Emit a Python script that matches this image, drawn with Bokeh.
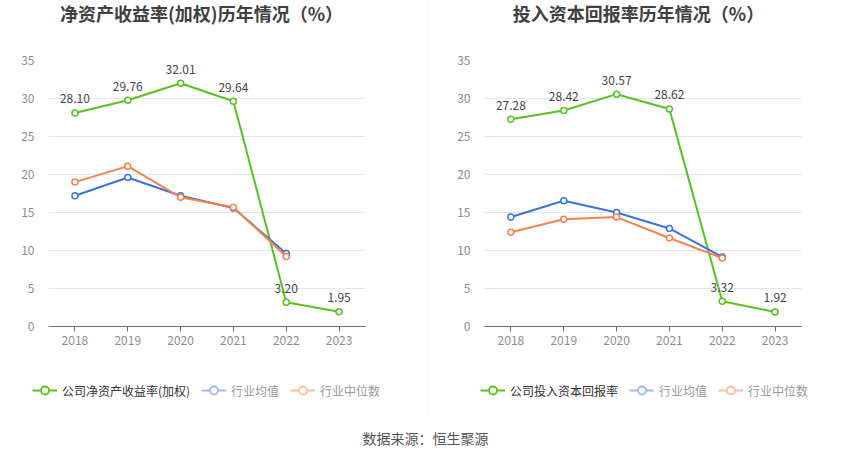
from bokeh.plotting import figure
from bokeh.models import FactorRange, Range1d, Label, Legend, LegendItem, FixedTicker
from bokeh.layouts import row, column
from bokeh.core.properties import value
from bokeh.embed import file_html
from bokeh.resources import INLINE

years = ["2018", "2019", "2020", "2021", "2022", "2023"]
avg_years = ["2018", "2019", "2020", "2021", "2022"]

roe_company = [28.10, 29.76, 32.01, 29.64, 3.20, 1.95]
roe_avg = [17.2, 19.6, 17.2, 15.6, 9.6]
roe_median = [19.0, 21.1, 17.0, 15.7, 9.2]

roic_company = [27.28, 28.42, 30.57, 28.62, 3.32, 1.92]
roic_avg = [14.4, 16.55, 15.0, 12.9, 9.15]
roic_median = [12.4, 14.1, 14.4, 11.65, 9.0]

y_ticks = [0, 5, 10, 15, 20, 25, 30, 35]

FONT = "Noto Sans CJK SC"
GREEN = "#58c21e"
BLUE = "#3a72e4"
ORANGE = "#f7814c"
BLUE_FADED = "#9ebaf2"
ORANGE_FADED = "#fbbfa5"
FRAME_W = 317


def blank(width, height, xr, yr, fill="white", left=0, right=0):
    f = figure(width=width, height=height, x_range=xr, y_range=yr,
               output_backend="svg", toolbar_location=None,
               x_axis_location=None, y_axis_location=None, min_border=0,
               min_border_left=left, min_border_right=right)
    f.background_fill_color = fill
    f.border_fill_color = fill
    f.outline_line_color = None
    f.grid.visible = False
    return f


def make_chart(title, title_x, company, avg, median, width, left):
    right = width - left - FRAME_W
    t = blank(width, 28, Range1d(0, FRAME_W), Range1d(0, 28), left=left, right=right)
    t.add_layout(Label(x=title_x, y=15.5, text=title, text_align="center",
                       text_baseline="middle", text_font=FONT,
                       text_font_size="18px", text_font_style="bold",
                       text_color="#404040"))

    p = figure(width=width, height=342,
               x_range=FactorRange(*years), y_range=Range1d(0, 35),
               output_backend="svg", toolbar_location=None,
               min_border_left=left, min_border_right=right,
               min_border_top=32, min_border_bottom=44)
    p.background_fill_color = "white"
    p.border_fill_color = "white"
    p.outline_line_color = None

    p.xgrid.grid_line_color = None
    p.ygrid.grid_line_color = "#e0e6f1"
    p.ygrid.grid_line_width = 1
    p.yaxis.ticker = FixedTicker(ticks=y_ticks)
    p.yaxis.axis_line_color = None
    p.yaxis.major_tick_line_color = None
    p.yaxis.minor_tick_line_color = None
    p.yaxis.major_label_standoff = 8
    p.xaxis.axis_line_color = "#6e7079"
    p.xaxis.major_tick_line_color = "#6e7079"
    p.xaxis.major_tick_out = 5
    p.xaxis.major_tick_in = 0
    p.xaxis.major_label_standoff = 4
    for ax in (p.xaxis, p.yaxis):
        ax.major_label_text_font = FONT
        ax.major_label_text_font_size = "12px"
        ax.major_label_text_color = "#8c8c8c"

    p.line(years, company, line_color=GREEN, line_width=2)
    p.scatter(years, company, size=6, fill_color="white",
              line_color=GREEN, line_width=1.5)
    p.text(years, company, text=[f"{v:.2f}" for v in company],
           y_offset=-14, text_align="center", text_baseline="middle",
           text_font=value(FONT), text_font_size="12px", text_color="#444444")

    p.line(avg_years, avg, line_color=BLUE, line_width=2)
    p.scatter(avg_years, avg, size=6, fill_color="white",
              line_color=BLUE, line_width=1.5)
    p.line(avg_years, median, line_color=ORANGE, line_width=2)
    p.scatter(avg_years, median, size=6, fill_color="white",
              line_color=ORANGE, line_width=1.5)
    return column(t, p)


def make_legend(width, company_label, company, avg, median, legend_x):
    # legend strip: series drawn with a y range that keeps them out of view,
    # so only their legend icons show
    f = blank(width, 48, FactorRange(*years), Range1d(100, 148))
    specs = [
        (company_label, years, company, GREEN, "#333333", legend_x[0]),
        ("行业均值", avg_years, avg, BLUE_FADED, "#999999", legend_x[1]),
        ("行业中位数", avg_years, median, ORANGE_FADED, "#999999", legend_x[2]),
    ]
    for label, xs, ys, col, tcol, lx in specs:
        lr = f.line(xs, ys, line_color=col, line_width=2)
        sr = f.scatter(xs, ys, size=9, fill_color="white",
                       line_color=col, line_width=1.8)
        lg = Legend(items=[LegendItem(label=label, renderers=[lr, sr])],
                    location=(lx, 18), orientation="horizontal",
                    padding=0, margin=0, spacing=0,
                    border_line_color=None, background_fill_alpha=0,
                    glyph_width=25, glyph_height=20, label_height=20,
                    label_standoff=5, label_text_font=FONT,
                    label_text_font_size="12px", label_text_color=tcol)
        f.add_layout(lg)
    return f


c1 = make_chart("净资产收益率(加权)历年情况（%）", 153,
                roe_company, roe_avg, roe_median, 427, 48)
c2 = make_chart("投入资本回报率历年情况（%）", 154,
                roic_company, roic_avg, roic_median, 414, 56)
l1 = make_legend(427, "公司净资产收益率(加权)", roe_company, roe_avg, roe_median,
                 [32, 201, 290])
l2 = make_legend(414, "公司投入资本回报率", roic_company, roic_avg, roic_median,
                 [52, 201, 290])

sep1 = blank(1, 370, Range1d(0, 1), Range1d(0, 1), fill="#eeeeee")
sep2 = blank(1, 48, Range1d(0, 1), Range1d(0, 1), fill="#eeeeee")

src = blank(841, 33, Range1d(0, 841), Range1d(0, 33))
src.add_layout(Label(x=425, y=14, text="数据来源：恒生聚源", text_align="center",
                     text_baseline="middle", text_font=FONT,
                     text_font_size="14px", text_color="#555555"))

layout = column(row(c1, column(sep1), c2),
                row(column(l1), column(sep2), column(l2)),
                src)
open("out.html", "w").write(file_html(layout, INLINE))
